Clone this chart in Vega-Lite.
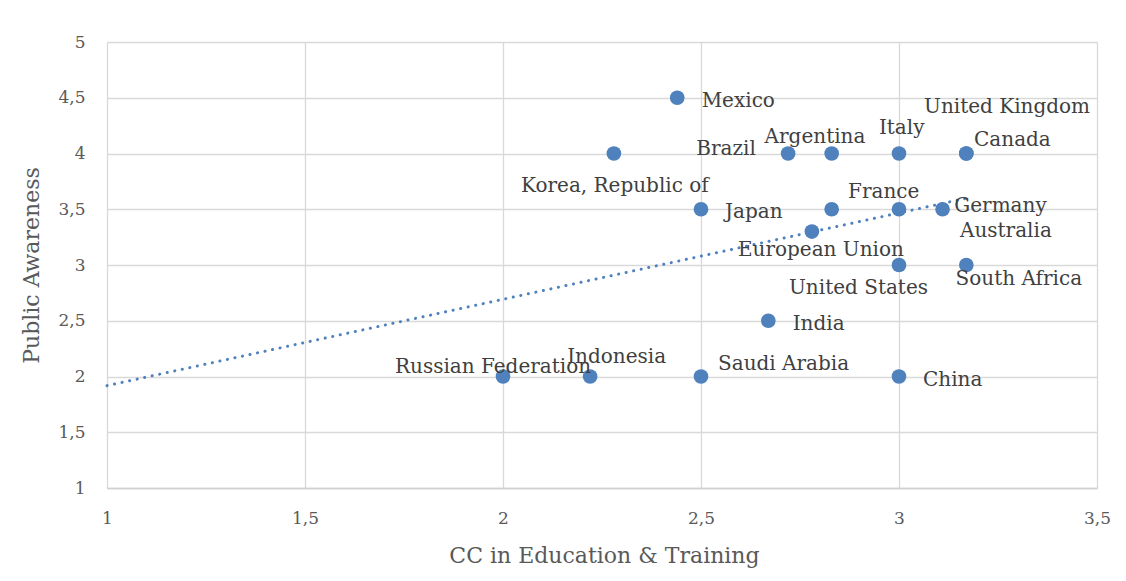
{
  "$schema": "https://vega.github.io/schema/vega-lite/v6.json",
  "width": 990,
  "height": 446,
  "autosize": {"type": "none"},
  "padding": {"left": 107, "top": 42, "right": 29, "bottom": 93},
  "background": "white",
  "config": {
    "locale": {"number": {"decimal": ",", "thousands": ".", "grouping": [3], "currency": ["", " €"]}},
    "view": {"stroke": null},
    "font": "DejaVu Serif",
    "text": {"font": "DejaVu Serif", "fontSize": 20, "color": "#404040", "baseline": "alphabetic"},
    "axis": {
      "labelFont": "DejaVu Serif", "labelFontSize": 17, "labelColor": "#595959",
      "titleFont": "DejaVu Serif", "titleFontSize": 22, "titleColor": "#595959", "titleFontWeight": "normal",
      "gridColor": "#d9d9d9", "gridWidth": 1.3, "ticks": false, "format": "~g", "labelFlush": false
    }
  },
  "data": {"values": [
    {"country": "Russian Federation", "x": 2.0, "y": 2.0},
    {"country": "Indonesia", "x": 2.22, "y": 2.0},
    {"country": "Saudi Arabia", "x": 2.5, "y": 2.0},
    {"country": "China", "x": 3.0, "y": 2.0},
    {"country": "India", "x": 2.67, "y": 2.5},
    {"country": "United States", "x": 3.0, "y": 3.0},
    {"country": "South Africa", "x": 3.17, "y": 3.0},
    {"country": "European Union", "x": 2.78, "y": 3.3},
    {"country": "Japan", "x": 2.5, "y": 3.5},
    {"country": "Australia", "x": 2.83, "y": 3.5},
    {"country": "France", "x": 3.0, "y": 3.5},
    {"country": "Germany", "x": 3.11, "y": 3.5},
    {"country": "Korea, Republic of", "x": 2.28, "y": 4.0},
    {"country": "Brazil", "x": 2.72, "y": 4.0},
    {"country": "Argentina", "x": 2.83, "y": 4.0},
    {"country": "Italy", "x": 3.0, "y": 4.0},
    {"country": "Canada", "x": 3.17, "y": 4.0},
    {"country": "United Kingdom", "x": 3.17, "y": 4.0},
    {"country": "Mexico", "x": 2.44, "y": 4.5}
  ]},
  "encoding": {
    "x": {"field": "x", "type": "quantitative",
      "scale": {"domain": [1, 3.5], "nice": false, "zero": false},
      "axis": {"title": "CC in Education & Training", "values": [1, 1.5, 2, 2.5, 3, 3.5],
        "domainColor": "#d0d0d0", "domainWidth": 1.5, "labelBaseline": "alphabetic", "labelPadding": 35,
        "titleX": 497, "titleY": 74, "titleBaseline": "alphabetic"}},
    "y": {"field": "y", "type": "quantitative",
      "scale": {"domain": [1, 5], "nice": false, "zero": false},
      "axis": {"title": "Public Awareness", "values": [1, 1.5, 2, 2.5, 3, 3.5, 4, 4.5, 5],
        "domain": false, "labelPadding": 22, "labelBaseline": "middle",
        "titleX": -69, "titleY": 223, "titleAngle": -90, "titleAlign": "center", "titleBaseline": "alphabetic"}}
  },
  "layer": [
    {"mark": {"type": "circle", "size": 215, "color": "#4f81bd", "opacity": 1}},
    {"transform": [{"regression": "y", "on": "x", "extent": [1, 3.17]}],
     "mark": {"type": "line", "color": "#4f81bd", "strokeWidth": 3, "strokeCap": "round", "strokeDash": [0.1, 7.6]}},
    {"transform": [{"filter": "datum.country === 'Russian Federation'"}], "mark": {"type": "text", "align": "center", "dx": -10, "dy": -3.5}, "encoding": {"text": {"field": "country"}}},
    {"transform": [{"filter": "datum.country === 'Indonesia'"}], "mark": {"type": "text", "align": "center", "dx": 26.5, "dy": -14}, "encoding": {"text": {"field": "country"}}},
    {"transform": [{"filter": "datum.country === 'Saudi Arabia'"}], "mark": {"type": "text", "align": "left", "dx": 17, "dy": -7}, "encoding": {"text": {"field": "country"}}},
    {"transform": [{"filter": "datum.country === 'China'"}], "mark": {"type": "text", "align": "left", "dx": 24, "dy": 9.5}, "encoding": {"text": {"field": "country"}}},
    {"transform": [{"filter": "datum.country === 'India'"}], "mark": {"type": "text", "align": "left", "dx": 24.4, "dy": 9}, "encoding": {"text": {"field": "country"}}},
    {"transform": [{"filter": "datum.country === 'Mexico'"}], "mark": {"type": "text", "align": "left", "dx": 24.4, "dy": 9}, "encoding": {"text": {"field": "country"}}},
    {"transform": [{"filter": "datum.country === 'Korea, Republic of'"}], "mark": {"type": "text", "align": "center", "dx": 1, "dy": 38}, "encoding": {"text": {"field": "country"}}},
    {"transform": [{"filter": "datum.country === 'Brazil'"}], "mark": {"type": "text", "align": "right", "dx": -32.3, "dy": 1}, "encoding": {"text": {"field": "country"}}},
    {"transform": [{"filter": "datum.country === 'Argentina'"}], "mark": {"type": "text", "align": "center", "dx": -16.7, "dy": -10.3}, "encoding": {"text": {"field": "country"}}},
    {"transform": [{"filter": "datum.country === 'Italy'"}], "mark": {"type": "text", "align": "center", "dx": 2.7, "dy": -19.7}, "encoding": {"text": {"field": "country"}}},
    {"transform": [{"filter": "datum.country === 'Canada'"}], "mark": {"type": "text", "align": "left", "dx": 7.7, "dy": -7.7}, "encoding": {"text": {"field": "country"}}},
    {"transform": [{"filter": "datum.country === 'United Kingdom'"}], "mark": {"type": "text", "align": "left", "dx": -42.3, "dy": -41}, "encoding": {"text": {"field": "country"}}},
    {"transform": [{"filter": "datum.country === 'Japan'"}], "mark": {"type": "text", "align": "left", "dx": 24, "dy": 9}, "encoding": {"text": {"field": "country"}}},
    {"transform": [{"filter": "datum.country === 'France'"}], "mark": {"type": "text", "align": "center", "dx": -15.3, "dy": -11}, "encoding": {"text": {"field": "country"}}},
    {"transform": [{"filter": "datum.country === 'Germany'"}], "mark": {"type": "text", "align": "left", "dx": 11.7, "dy": 2.5}, "encoding": {"text": {"field": "country"}}},
    {"transform": [{"filter": "datum.country === 'Australia'"}], "mark": {"type": "text", "align": "left", "dx": 128.3, "dy": 27.4}, "encoding": {"text": {"field": "country"}}},
    {"transform": [{"filter": "datum.country === 'European Union'"}], "mark": {"type": "text", "align": "center", "dx": 9, "dy": 24}, "encoding": {"text": {"field": "country"}}},
    {"transform": [{"filter": "datum.country === 'United States'"}], "mark": {"type": "text", "align": "center", "dx": -40.5, "dy": 29}, "encoding": {"text": {"field": "country"}}},
    {"transform": [{"filter": "datum.country === 'South Africa'"}], "mark": {"type": "text", "align": "left", "dx": -10.7, "dy": 20}, "encoding": {"text": {"field": "country"}}}
  ]
}
